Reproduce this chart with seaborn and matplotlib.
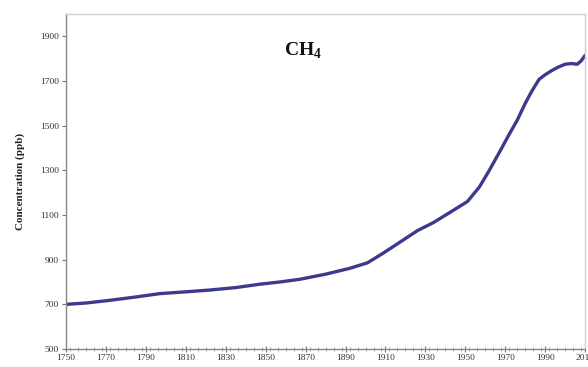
import matplotlib
matplotlib.use("Agg")
import matplotlib.pyplot as plt
from matplotlib.ticker import MultipleLocator
import seaborn as sns
import pandas as pd

# Atmospheric methane concentration, 1750-2010 (ppb)
years = [1750, 1760, 1772, 1785, 1797, 1810, 1822, 1835, 1847, 1857, 1867,
         1880, 1892, 1901, 1909, 1917, 1926, 1934, 1942, 1951, 1957, 1962,
         1967, 1972, 1976, 1980, 1983, 1985, 1987, 1990, 1993, 1996, 2000,
         2003, 2006, 2008, 2010]
ch4_ppb = [700, 706, 718, 733, 748, 756, 764, 775, 790, 800, 812,
           835, 861, 886, 930, 977, 1030, 1066, 1110, 1160, 1225, 1300,
           1380, 1462, 1525, 1600, 1650, 1680, 1708, 1728, 1745, 1760, 1775,
           1778, 1775, 1790, 1815]

x_ticks = list(range(1750, 2011, 20))
y_ticks = list(range(500, 2000, 200))

df = pd.DataFrame({"year": years, "ppb": ch4_ppb})

sns.set_style("white")
plt.rcParams["font.family"] = ["Liberation Serif", "DejaVu Serif"]
plt.rcParams["mathtext.fontset"] = "custom"
plt.rcParams["mathtext.rm"] = "Liberation Serif"
plt.rcParams["mathtext.bf"] = "Liberation Serif:bold"

fig = plt.figure(figsize=(5.88, 3.67), dpi=100)
ax = fig.add_axes([0.1122, 0.049, 0.883, 0.913])

sns.lineplot(data=df, x="year", y="ppb", ax=ax, color="#3d3a8e",
             linewidth=2.4, solid_capstyle="round")

ax.set_xlim(1750, 2010)
ax.set_ylim(500, 2000)
ax.set_xticks(x_ticks)
ax.set_yticks(y_ticks)
ax.xaxis.set_minor_locator(MultipleLocator(4))
ax.tick_params(axis="x", which="major", direction="inout", length=5,
               width=0.8, color="#777777", labelsize=6.8, pad=1,
               labelcolor="#333333")
ax.tick_params(axis="x", which="minor", direction="inout", length=3,
               width=0.6, color="#999999")
ax.tick_params(axis="y", which="major", direction="out", length=3,
               width=0.8, color="#777777", labelsize=6.8, pad=2,
               labelcolor="#333333")
ax.tick_params(bottom=True, left=True, which="both")

ax.set_xlabel("")
ax.set_ylabel("Concentration (ppb)", fontsize=8, fontweight="bold",
              color="#222222", labelpad=11)

for side in ("left", "bottom"):
    ax.spines[side].set_color("#888888")
    ax.spines[side].set_linewidth(1.0)
for side in ("top", "right"):
    ax.spines[side].set_color("#d0d0d0")
    ax.spines[side].set_linewidth(1.0)

ax.text(0.456, 0.89, r"CH$_\mathbf{4}$", transform=ax.transAxes,
        fontsize=14, fontweight="bold", ha="center", va="center",
        color="#111111")

fig.savefig("out.png", dpi=100)
